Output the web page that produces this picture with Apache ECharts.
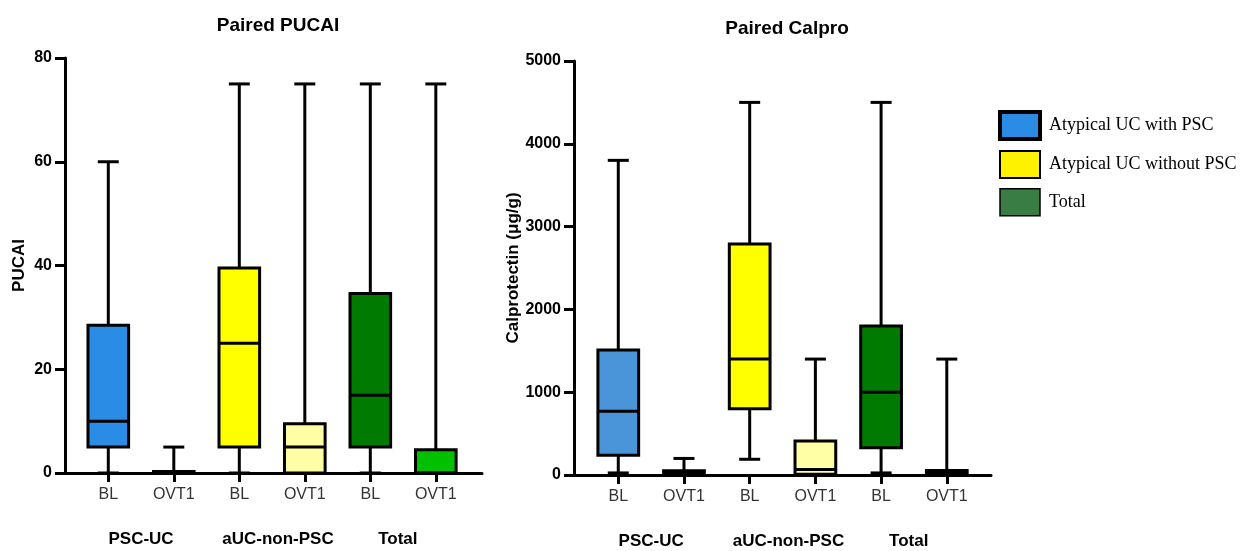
<!DOCTYPE html>
<html>
<head>
<meta charset="utf-8">
<script src="https://cdn.jsdelivr.net/npm/echarts@6/dist/echarts.min.js"></script>
<style>
html,body{margin:0;padding:0;background:#fff;}
#chart{width:1242px;height:551px;}
</style>
</head>
<body>
<div id="chart"></div>
<script>
// ---------- data ----------
const categories = ['BL', 'OVT1', 'BL', 'OVT1', 'BL', 'OVT1'];
const groups = ['PSC-UC', 'aUC-non-PSC', 'Total'];
const legendNames = ['Atypical UC with PSC', 'Atypical UC without PSC', 'Total'];
const pucaiTicks = [0, 20, 40, 60, 80];
const calproTicks = [0, 1000, 2000, 3000, 4000, 5000];
// each box: [min, Q1, median, Q3, max]  (BL, OVT1)
const pucaiPSC   = [[0, 5, 10, 28.5, 60], [0, 0, 0, 0.3, 5]];
const pucaiAUC   = [[0, 5, 25, 39.5, 75], [0, 0, 5, 9.5, 75]];
const pucaiTotal = [[0, 5, 15, 34.6, 75], [0, 0, 0, 4.5, 75]];
const calproPSC   = [[25, 240, 770, 1510, 3800], [0, 5, 25, 50, 200]];
const calproAUC   = [[190, 800, 1400, 2790, 4500], [0, 10, 65, 410, 1400]];
const calproTotal = [[25, 330, 1000, 1800, 4500], [0, 5, 30, 55, 1400]];

// ---------- styles ----------
const pucaiColors  = ['#2b8ce6', '#2b8ce6', '#ffff00', '#ffffa6', '#007a00', '#00c000'];
const calproColors = ['#4a94d9', '#4a94d9', '#ffff00', '#ffffa6', '#007a00', '#00c000'];
const legendColors = ['#2b8ce6', '#fff200', '#3a7d44'];
const legendBorders = [4, 2, 1.5];
const groupLabelAt = [0.5, 2.59, 4.42];
const catAt = categories.map((c, i) => i);
const BOX_W = 0.62, CAP_W = 0.32;
const SANS = 'Liberation Sans, Arial, sans-serif';

function renderBox(params, api) {
  const x = api.value(0);
  const mn = api.value(1), q1 = api.value(2), md = api.value(3), q3 = api.value(4), mx = api.value(5);
  const unit = api.size([1, 0])[0];
  const hb = unit * BOX_W / 2, hc = unit * CAP_W / 2;
  const c = v => api.coord([x, v]);
  const pMn = c(mn), pQ1 = c(q1), pMd = c(md), pQ3 = c(q3), pMx = c(mx);
  const ls = { stroke: '#000', lineWidth: 3 };
  return {
    type: 'group',
    children: [
      { type: 'line', shape: { x1: pMn[0], y1: pMn[1], x2: pQ1[0], y2: pQ1[1] }, style: ls },
      { type: 'line', shape: { x1: pQ3[0], y1: pQ3[1], x2: pMx[0], y2: pMx[1] }, style: ls },
      { type: 'line', shape: { x1: pMx[0] - hc, y1: pMx[1], x2: pMx[0] + hc, y2: pMx[1] }, style: ls },
      { type: 'line', shape: { x1: pMn[0] - hc, y1: pMn[1], x2: pMn[0] + hc, y2: pMn[1] }, style: ls },
      { type: 'rect', shape: { x: pQ3[0] - hb, y: pQ3[1], width: 2 * hb, height: Math.max(pQ1[1] - pQ3[1], 0.01) },
        style: { fill: api.visual('color'), stroke: '#000', lineWidth: 3 } },
      { type: 'line', shape: { x1: pMd[0] - hb, y1: pMd[1], x2: pMd[0] + hb, y2: pMd[1] }, style: ls }
    ]
  };
}

function makeSeries(sets, colors, axisIdx) {
  return sets.map((arr, g) => ({
    type: 'custom',
    name: legendNames[g],
    xAxisIndex: axisIdx * 2,
    yAxisIndex: axisIdx,
    renderItem: renderBox,
    encode: { x: 0, y: [1, 2, 3, 4, 5] },
    itemStyle: { color: legendColors[g] },
    data: arr.map((v, k) => ({ value: [g * 2 + k].concat(v), itemStyle: { color: colors[g * 2 + k] } }))
  }));
}

function catAxis(grid, min, max) {
  return {
    type: 'value', gridIndex: grid, min: min, max: max, position: 'bottom',
    axisLine: { show: true, onZero: false, lineStyle: { color: '#000', width: 3 } },
    axisTick: { show: true, customValues: catAt, length: 9, lineStyle: { color: '#000', width: 3 } },
    axisLabel: { show: true, customValues: catAt, formatter: v => categories[Math.round(v)],
      fontFamily: SANS, fontSize: 16, color: '#333', margin: 14 },
    splitLine: { show: false }
  };
}
function groupAxis(grid, min, max) {
  return {
    type: 'value', gridIndex: grid, min: min, max: max, position: 'bottom',
    axisLine: { show: false, onZero: false }, axisTick: { show: false },
    axisLabel: { show: true, customValues: groupLabelAt,
      formatter: v => groups[groupLabelAt.indexOf(v)],
      fontFamily: SANS, fontSize: 17, fontWeight: 'bold', color: '#000', margin: 58 },
    splitLine: { show: false }
  };
}
function valAxis(grid, max, interval, name, gap) {
  return {
    type: 'value', gridIndex: grid, min: 0, max: max, interval: interval,
    name: name, nameLocation: 'middle', nameGap: gap,
    nameTextStyle: { fontFamily: SANS, fontSize: 17, fontWeight: 'bold', color: '#000' },
    axisLine: { show: true, onZero: false, lineStyle: { color: '#000', width: 3 } },
    axisTick: { show: true, length: 10, lineStyle: { color: '#000', width: 3 } },
    axisLabel: { fontFamily: SANS, fontSize: 16, fontWeight: 'bold', color: '#000', margin: 13,
      formatter: v => String(v) },
    splitLine: { show: false }
  };
}

const chart = echarts.init(document.getElementById('chart'), null, { renderer: 'canvas' });
chart.setOption({
  animation: false,
  backgroundColor: '#fff',
  title: [
    { text: 'Paired PUCAI', left: 273, top: 11, textAlign: 'center',
      textStyle: { fontFamily: SANS, fontSize: 19, fontWeight: 'bold', color: '#000' } },
    { text: 'Paired Calpro', left: 782, top: 14, textAlign: 'center',
      textStyle: { fontFamily: SANS, fontSize: 19, fontWeight: 'bold', color: '#000' } }
  ],
  legend: {
    orient: 'vertical', left: 993, top: 105, icon: 'rect',
    itemWidth: 40, itemHeight: 27, itemGap: 9, selectedMode: false,
    textStyle: { fontFamily: 'Liberation Serif, Times New Roman, serif', fontSize: 18, color: '#000', padding: [0, 0, 0, 4] },
    data: legendNames.map((n, i) => ({ name: n, itemStyle: { color: legendColors[i], borderColor: '#000', borderWidth: legendBorders[i] } }))
  },
  grid: [
    { left: 65, top: 58, width: 417, height: 415 },
    { left: 574, top: 61, width: 417, height: 414 }
  ],
  xAxis: [
    catAxis(0, -0.661, 5.705), groupAxis(0, -0.661, 5.705),
    catAxis(1, -0.674, 5.673), groupAxis(1, -0.674, 5.673)
  ],
  yAxis: [
    valAxis(0, pucaiTicks[pucaiTicks.length - 1], pucaiTicks[1] - pucaiTicks[0], 'PUCAI', 37),
    valAxis(1, calproTicks[calproTicks.length - 1], calproTicks[1] - calproTicks[0], 'Calprotectin (μg/g)', 50)
  ],
  series: makeSeries([pucaiPSC, pucaiAUC, pucaiTotal], pucaiColors, 0)
    .concat(makeSeries([calproPSC, calproAUC, calproTotal], calproColors, 1))
});
</script>
</body>
</html>
